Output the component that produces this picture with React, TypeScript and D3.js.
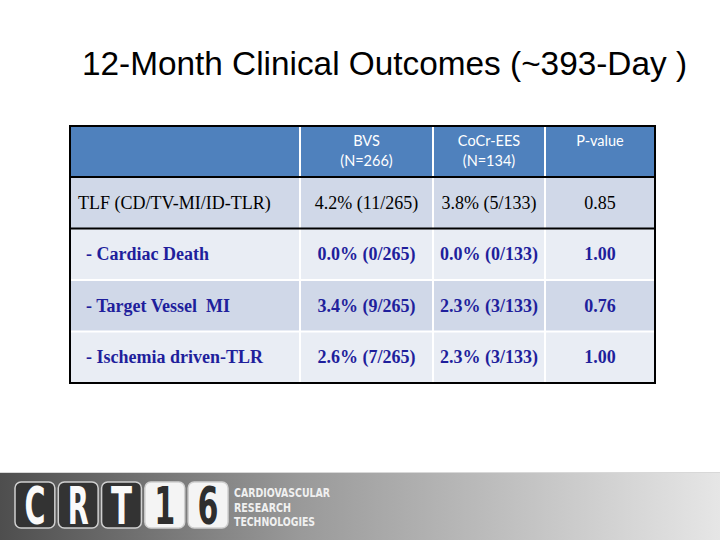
import React from "react";
import * as d3 from "d3";

const title = "12-Month Clinical Outcomes (~393-Day )";
const headerLines: string[][] = [[], ["BVS", "(N=266)"], ["CoCr-EES", "(N=134)"], ["P-value"]];
const outcomes = ["TLF (CD/TV-MI/ID-TLR)", "- Cardiac Death", "- Target Vessel  MI", "- Ischemia driven-TLR"];
const bvsPct = [4.2, 0.0, 3.4, 2.6];
const bvsEvents = [11, 0, 9, 7];
const bvsN = 265;
const cocrPct = [3.8, 0.0, 2.3, 2.3];
const cocrEvents = [5, 0, 3, 3];
const cocrN = 133;
const pValues = ["0.85", "1.00", "0.76", "1.00"];
const logoBoxes = ["C", "R", "T", "1", "6"];
const logoInverted = [false, false, false, true, true];
const logoWords = ["CARDIOVASCULAR", "RESEARCH", "TECHNOLOGIES"];

const W = 720, H = 540;
const tableLeft = 70, tableRight = 655, headTop = 126, headBottom = 177, tableBottom = 383;
const colWeights = [230, 133, 112, 110];

export default function App() {
  const colEdges = d3.cumsum([0, ...colWeights]);
  const x = d3.scaleLinear().domain([0, colEdges[colEdges.length - 1]]).range([tableLeft, tableRight]);
  const y = d3.scaleBand<string>().domain(outcomes).range([headBottom, tableBottom]);
  const fmt = d3.format(".1f");
  const cells = outcomes.map((o, i) => [
    o,
    `${fmt(bvsPct[i])}% (${bvsEvents[i]}/${bvsN})`,
    `${fmt(cocrPct[i])}% (${cocrEvents[i]}/${cocrN})`,
    pValues[i],
  ]);
  const rowFill = (i: number) => (i % 2 === 0 ? "#d0d8e8" : "#e9edf4");
  const colX = (c: number) => x(colEdges[c]);
  const colMid = (c: number) => (x(colEdges[c]) + x(colEdges[c + 1])) / 2;
  const boxX = d3.scaleBand<number>().domain(d3.range(logoBoxes.length)).range([15, 228]).paddingInner(0.08);

  return (
    <svg width={W} height={H} style={{ position: "absolute", left: 0, top: 0, background: "#fff" }}>
      <defs>
        <linearGradient id="band" x1="0" x2="1" y1="0" y2="0">
          <stop offset="0" stopColor="#4e4e4e" />
          <stop offset="0.42" stopColor="#9a9a9a" />
          <stop offset="1" stopColor="#e6e6e6" />
        </linearGradient>
      </defs>
      <text x={82} y={75} fontFamily="Liberation Sans, Arial, sans-serif" fontSize={33} fill="#000"
        textLength={605} lengthAdjust="spacingAndGlyphs">
        {title}
      </text>

      {/* header */}
      <rect x={tableLeft} y={headTop} width={tableRight - tableLeft} height={headBottom - headTop} fill="#4f81bd" />
      {headerLines.map((lines, c) =>
        lines.map((t, k) => (
          <text key={`h${c}-${k}`} x={colMid(c)} y={headTop + 20 + k * 20} textAnchor="middle"
            fontFamily="Lato, 'Open Sans', sans-serif" fontSize={14.5} fill="#fff">
            {t}
          </text>
        ))
      )}

      {/* rows */}
      {cells.map((row, i) => (
        <g key={`r${i}`}>
          <rect x={tableLeft} y={y(outcomes[i])!} width={tableRight - tableLeft} height={y.bandwidth()} fill={rowFill(i)} />
          {row.map((t, c) => (
            <text key={c}
              x={c === 0 ? tableLeft + (i === 0 ? 8 : 16) : colMid(c)}
              y={y(outcomes[i])! + y.bandwidth() / 2 + 6}
              textAnchor={c === 0 ? "start" : "middle"}
              fontFamily="Liberation Serif, 'Times New Roman', serif"
              fontSize={18}
              fontWeight={i === 0 ? "normal" : "bold"}
              fill={i === 0 ? "#000" : "#1f1f9c"}
              style={{ whiteSpace: "pre" }}>
              {t}
            </text>
          ))}
        </g>
      ))}

      {/* separators */}
      {outcomes.slice(2).map((o) => (
        <line key={`hs${o}`} x1={tableLeft} x2={tableRight} y1={y(o)!} y2={y(o)!} stroke="#fff" strokeWidth={2} />
      ))}
      {[1, 2, 3].map((c) => (
        <line key={`vs${c}`} x1={colX(c)} x2={colX(c)} y1={headTop} y2={tableBottom} stroke="#fff" strokeWidth={2} />
      ))}
      <line x1={tableLeft} x2={tableRight} y1={headBottom} y2={headBottom} stroke="#000" strokeWidth={2} />
      <line x1={tableLeft} x2={tableRight} y1={y(outcomes[1])!} y2={y(outcomes[1])!} stroke="#000" strokeWidth={2} />
      <rect x={tableLeft} y={headTop} width={tableRight - tableLeft} height={tableBottom - headTop} fill="none" stroke="#000" strokeWidth={2} />

      {/* logo band */}
      <rect x={0} y={472} width={W} height={H - 472} fill="url(#band)" />
      <line x1={0} x2={W} y1={472.5} y2={472.5} stroke="#d8d8d8" strokeWidth={1} />
      {logoBoxes.map((ch, i) => (
        <g key={`lb${i}`}>
          <rect x={boxX(i)!} y={482} width={boxX.bandwidth()} height={46} rx={6}
            fill={logoInverted[i] ? "#f4f4f4" : "#333"} stroke="#d0d0d0" strokeWidth={1.5} />
          <text x={boxX(i)! + boxX.bandwidth() / 2} y={524} textAnchor="middle"
            fontFamily="'DejaVu Sans Condensed', 'DejaVu Sans', sans-serif" fontWeight="bold" fontSize={52}
            textLength={21} lengthAdjust="spacingAndGlyphs"
            fill={logoInverted[i] ? "#2e2e2e" : "#fafafa"}>
            {ch}
          </text>
        </g>
      ))}
      {logoWords.map((w, i) => (
        <text key={`lw${i}`} x={234} y={497 + i * 14.5}
          fontFamily="'DejaVu Sans Condensed', 'DejaVu Sans', sans-serif" fontWeight="bold" fontSize={12}
          textLength={[96, 57, 81][i]} lengthAdjust="spacingAndGlyphs" fill="#f0f0f0">
          {w}
        </text>
      ))}
    </svg>
  );
}
